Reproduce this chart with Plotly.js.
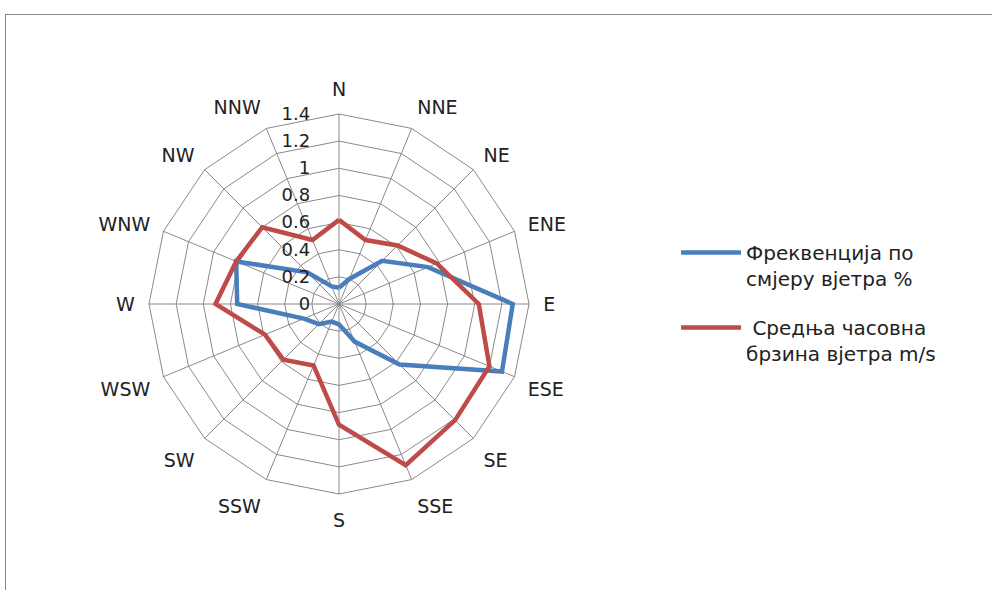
<!DOCTYPE html>
<html>
<head>
<meta charset="utf-8">
<script src="https://cdn.plot.ly/plotly-3.0.1.min.js"></script>
<style>
  html, body { margin: 0; padding: 0; background: #ffffff; }
  #wrap { position: relative; width: 992px; height: 590px; overflow: hidden; }
  #chart { position: absolute; left: 0; top: 0; width: 992px; height: 590px; }
  #frame { position: absolute; left: 5px; top: 14px; width: 1200px; height: 800px;
           border-left: 1.5px solid #8a8a8a; border-top: 1.5px solid #8a8a8a; pointer-events: none; }
</style>
</head>
<body>
<div id="wrap">
  <div id="chart"></div>
  <div id="frame"></div>
</div>
<script>
const directions = ["N","NNE","NE","ENE","E","ESE","SE","SSE","S","SSW","SW","WSW","W","WNW","NW","NNW"];
const frequency = [0.12, 0.20, 0.45, 0.71, 1.28, 1.30, 0.63, 0.30, 0.15, 0.14, 0.21, 0.28, 0.75, 0.82, 0.33, 0.14];
const speed     = [0.62, 0.51, 0.61, 0.78, 1.03, 1.20, 1.21, 1.285, 0.89, 0.49, 0.58, 0.59, 0.91, 0.82, 0.80, 0.51];
const seriesNames = ["Фреквенција по<br>смјеру вјетра %", " Средња часовна<br>брзина вјетра m/s"];
const radialTicks = [0, 0.2, 0.4, 0.6, 0.8, 1, 1.2, 1.4];

function closed(arr) { return arr.concat([arr[0]]); }

const traces = [
  { type: "scatterpolar", mode: "lines", r: closed(frequency), theta: closed(directions),
    name: seriesNames[0], legendgroup: "g1", line: { color: "#4a7ebb", width: 4.5 } },
  { type: "scatterpolar", mode: "lines", r: closed(speed), theta: closed(directions),
    name: seriesNames[1], legendgroup: "g2", line: { color: "#be4b48", width: 4.5 } }
];

const layout = {
  width: 992, height: 590,
  margin: { l: 0, r: 0, t: 0, b: 0 },
  paper_bgcolor: "#ffffff",
  font: { family: "DejaVu Sans, sans-serif", size: 18, color: "#222222" },
  showlegend: true,
  legend: { x: 0.6815, y: 0.605, xanchor: "left", yanchor: "top", valign: "top",
            font: { size: 20, color: "#222222" }, tracegroupgap: 20, itemwidth: 60 },
  polar: {
    domain: { x: [(339 - 190) / 992, (339 + 190) / 992], y: [(286 - 190) / 590, (286 + 190) / 590] },
    bgcolor: "#ffffff",
    gridshape: "linear",
    angularaxis: {
      direction: "clockwise", rotation: 90,
      categoryorder: "array", categoryarray: directions,
      showline: true, linecolor: "#8a8a8a", linewidth: 1,
      gridcolor: "#8a8a8a", gridwidth: 1,
      ticks: "outside", ticklen: 10, tickcolor: "rgba(0,0,0,0)",
      tickfont: { size: 19, color: "#222222" }
    },
    radialaxis: {
      range: [0, 1.4], tickvals: radialTicks, ticktext: radialTicks.map(String),
      angle: 90, side: "counterclockwise", tickangle: 90,
      showline: false, gridcolor: "#8a8a8a", gridwidth: 1,
      ticks: "outside", ticklen: 22, tickcolor: "rgba(0,0,0,0)",
      tickfont: { size: 18, color: "#222222" }
    }
  }
};

Plotly.newPlot("chart", traces, layout, { displayModeBar: false, staticPlot: true });
</script>
</body>
</html>
